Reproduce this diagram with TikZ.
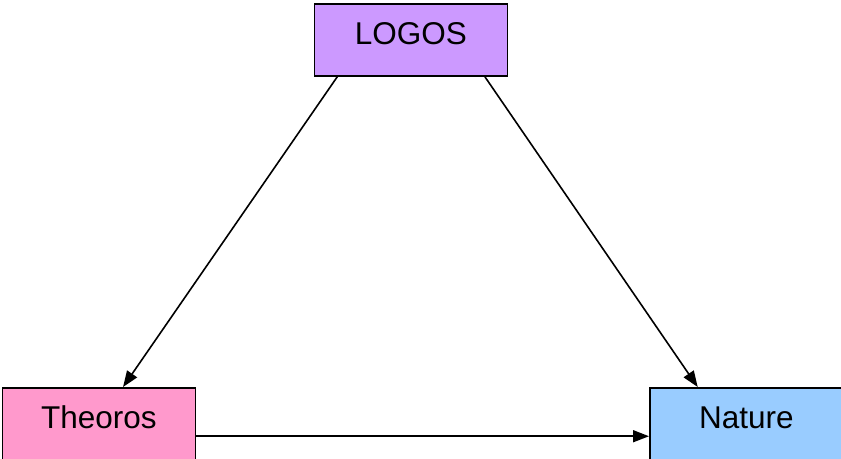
\documentclass[tikz,border=0pt]{standalone}
\usepackage{fontspec}
\setmainfont{Liberation Sans}
\usetikzlibrary{arrows.meta,calc}
\definecolor{logoscol}{HTML}{CC99FF}
\definecolor{theoroscol}{HTML}{FF99CC}
\definecolor{naturecol}{HTML}{99CCFF}
\begin{document}
\begin{tikzpicture}[x=1pt,y=-1pt,
  box/.style={draw=black,line width=1.8pt,inner sep=0pt,minimum width=193pt,
    text height=41pt,text depth=31pt,font=\fontsize{31.5}{37}\selectfont,anchor=north west},
  conn/.style={line width=1.6pt,-{Triangle[length=16pt,width=12pt]}}]
\clip (0,0) rectangle (841,458);
\useasboundingbox (0,0) rectangle (841,458);
\node[box,fill=logoscol] (logos) at (313.5,3) {LOGOS};
\node[box,fill=theoroscol] (theoros) at (1.5,387) {Theoros};
\node[box,fill=naturecol] (nature) at (649,387) {Nature};
\coordinate (a1) at ($(logos.south west)!0.122!(logos.south east)$);
\coordinate (a2) at ($(theoros.north west)!0.624!(theoros.north east)$);
\coordinate (b1) at ($(logos.south west)!0.88!(logos.south east)$);
\coordinate (b2) at ($(nature.north west)!0.25!(nature.north east)$);
\coordinate (c1) at ($(theoros.north east)!0.667!(theoros.south east)$);
\coordinate (c2) at ($(nature.north west)!0.667!(nature.south west)$);
\draw[conn] (a1) -- (a2);
\draw[conn] (b1) -- (b2);
\draw[conn] (c1) -- (c2);
\end{tikzpicture}
\end{document}
